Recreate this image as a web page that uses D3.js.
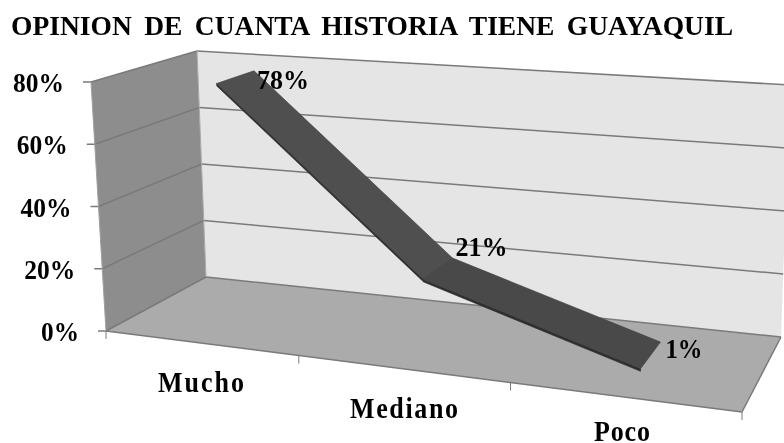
<!DOCTYPE html>
<html><head><meta charset="utf-8">
<style>html,body{margin:0;padding:0;background:#fff;overflow:hidden}svg{display:block}
text{font-family:"Liberation Serif",serif;font-weight:bold;fill:#000}</style>
<script src="https://cdnjs.cloudflare.com/ajax/libs/d3/7.8.5/d3.min.js"></script></head><body>
<script>
const titleText = "OPINION DE CUANTA HISTORIA TIENE GUAYAQUIL";
const categories = ["Mucho", "Mediano", "Poco"];
const values = [0.78, 0.21, 0.01];
const valueLabels = ["78%", "21%", "1%"];
const yTicks = [0, 0.2, 0.4, 0.6, 0.8];

const W = 784, H = 443;
const svg = d3.select("body").append("svg").attr("width", W).attr("height", H);
const defs = svg.append("defs");
defs.append("filter").attr("id","soft").append("feGaussianBlur").attr("stdDeviation",0.45);
defs.append("filter").attr("id","softer").append("feGaussianBlur").attr("stdDeviation",0.35);

function homography(q){
  const [[x0,y0],[x1,y1],[x2,y2],[x3,y3]] = q;
  const dx1=x1-x2, dx2=x3-x2, sx=x0-x1+x2-x3, dy1=y1-y2, dy2=y3-y2, sy=y0-y1+y2-y3;
  const den=dx1*dy2-dx2*dy1, g=(sx*dy2-dx2*sy)/den, h=(dx1*sy-sx*dy1)/den;
  const a=x1-x0+g*x1, b=x3-x0+h*x3, d=y1-y0+g*y1, e=y3-y0+h*y3;
  return (u,v)=>{const w=g*u+h*v+1; return [(a*u+b*v+x0)/w,(d*u+e*v+y0)/w];};
}
// corners: front-left, front-right, back-right, back-left
const floorH = homography([[106,331],[742,412],[781,337],[206,277]]);
const ceilH  = homography([[91,82],[752,132],[790,85],[197,51]]);
const y = d3.scaleLinear().domain([0,0.8]).range([0,1]);
const x = d3.scalePoint().domain(categories).range([0,1]).padding(0.5);
const warp = d3.scaleLinear().domain([0,1/3,2/3,1]).range([0,.348,.682,1]);
const P = (u,d,val)=>{const w=warp(u),a=floorH(w,d),b=ceilH(w,d),t=y(val);return [a[0]+(b[0]-a[0])*t,a[1]+(b[1]-a[1])*t];};
const line = d3.line();
const poly = pts=>line(pts)+"Z";

const art=svg.append("g").attr("filter","url(#softer)");
art.append("path").attr("d",poly([P(0,0,0),P(0,1,0),P(0,1,.8),P(0,0,.8)])).attr("fill","#8d8d8d");
art.append("path").attr("d",poly([P(0,1,0),P(1,1,0),P(1,1,.8),P(0,1,.8)])).attr("fill","#e5e5e5");
art.append("path").attr("d",poly([P(0,0,0),P(1,0,0),P(1,1,0),P(0,1,0)])).attr("fill","#ababab");

const gridCol="#7a7a7a";
const seg=(a,b,w=1.5,c=gridCol)=>art.append("path").attr("d",line([a,b])).attr("stroke",c).attr("stroke-width",w).attr("fill","none");
yTicks.forEach(v=>{
  seg(P(0,0,v),P(0,1,v));
  seg(P(0,1,v),P(1,1,v));
  const a=P(0,0,v); seg([a[0]-8,a[1]],a);
});
seg(P(0,0,0),P(0,0,.8),1,"#a0a0a0");
seg(P(0,1,0),P(0,1,.8),1,"#a8a8a8");
seg(P(0,0,0),P(1,0,0)); seg(P(1,0,0),P(1,1,0));
d3.range(0,4).forEach(i=>{const a=P(i/3,0,0); seg(a,[a[0],a[1]+8],1);});

// ribbon
const d0=0.32, d1=0.70, thick=0.008;
const us=categories.map(c=>x(c));
for(let i=0;i<values.length-1;i++){
  const a=[us[i],values[i]], b=[us[i+1],values[i+1]];
  art.append("path").attr("d",poly([P(a[0],d0,a[1]),P(b[0],d0,b[1]),P(b[0],d0,b[1]-thick),P(a[0],d0,a[1]-thick)]))
    .attr("fill","#2e2e2e").attr("stroke","#2e2e2e").attr("stroke-width",.6);
  art.append("path").attr("d",poly([P(a[0],d0,a[1]),P(a[0],d1,a[1]),P(b[0],d1,b[1]),P(b[0],d0,b[1])]))
    .attr("fill",i==0?"#505050":"#4a4a4a").attr("stroke","#3a3a3a").attr("stroke-width",.6);
}

const txt=svg.append("g").attr("filter","url(#soft)");
function label(s,px,py,size,sy,len,adjust){
  return txt.append("text").attr("transform",`translate(${px},${py}) scale(1,${sy})`)
    .attr("font-size",size).attr("textLength",len).attr("lengthAdjust",adjust).text(s);
}
label(titleText,11,35,25,1.1,722,"spacingAndGlyphs").attr("word-spacing",5);
yTicks.forEach(v=>{
  const a=P(0,0,v), s=d3.format(".0%")(v), w=v?51:38;
  label(s,a[0]-27-w,a[1]+10,25,1.1,w,"spacingAndGlyphs");
});
const catLabelPos=[[158,392,86],[350,418,108],[594,441,56]];
categories.forEach((c,i)=>label(c,catLabelPos[i][0],catLabelPos[i][1],26,1.15,catLabelPos[i][2],"spacing"));
const labelOffset=[[3,18,52],[3,-2,52],[5,16,37]];
values.forEach((v,i)=>{
  const a=P(us[i],d1,v);
  label(valueLabels[i],a[0]+labelOffset[i][0],a[1]+labelOffset[i][1],25,1.1,labelOffset[i][2],"spacingAndGlyphs");
});
</script></body></html>
